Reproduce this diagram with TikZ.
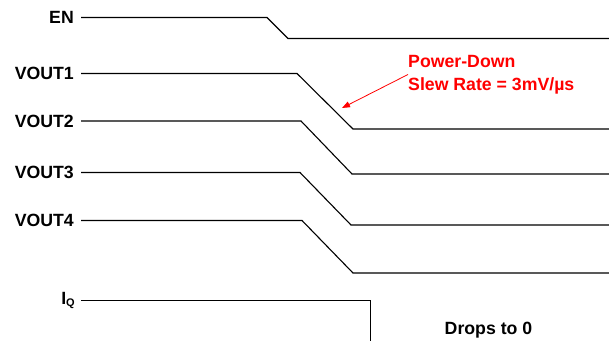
\documentclass[tikz,border=0pt]{standalone}
\usepackage{fontspec}
\setmainfont{Liberation Sans}
\usepackage{tikz}
\usetikzlibrary{arrows.meta,positioning}
\definecolor{nred}{HTML}{FF0000}
\newcommand{\sigfont}{\fontsize{17.7}{22.7}\selectfont\bfseries}

\begin{document}
\begin{tikzpicture}[x=1pt,y=-1pt,
    siglabel/.style={font=\sigfont,inner sep=0pt},
    wave/.style={line width=1.1pt}]
  \useasboundingbox (0,0) rectangle (609,341);
  % EN
  \coordinate (en0) at (81,17.5);
  \node[siglabel,left=7pt of en0] (en) {EN};
  \draw[wave] (en0) -- (267,17.5) -- (288,38.5) -- (609,38.5);
  % VOUT1..VOUT4
  \foreach \n/\y/\k/\b/\h in {1/73.5/297/353/129, 2/121/301/352/174,
                              3/172.5/300/351/225, 4/220.5/302/353/273}{
    \coordinate (v\n) at (81,\y);
    \node[siglabel,left=7pt of v\n] (vout\n) {VOUT\n};
    \draw[wave] (v\n) -- (\k,\y) -- (\b,\h) -- (609,\h);
  }
  % IQ
  \coordinate (iq0) at (81,300.7);
  \node[siglabel,anchor=base east] (iq) at (75,304) {I\raisebox{-2.5pt}{\fontsize{11}{12}\selectfont Q}};
  \draw[wave] (iq0) -- (370.5,300.7) -- (370.5,341);
  \node[siglabel,anchor=base] (drop) at (488.5,334.5) {Drops to 0};
  % slew rate note
  \node[siglabel,nred,align=left,anchor=north west] (slew) at (408,55)
        {Power-Down\\Slew Rate = 3mV/µs};
  \coordinate (tip) at (342,108);
  \draw[nred,line width=0.8pt,-{Triangle[length=8pt,width=6pt]}] (slew.west) -- (tip);
\end{tikzpicture}
\end{document}
